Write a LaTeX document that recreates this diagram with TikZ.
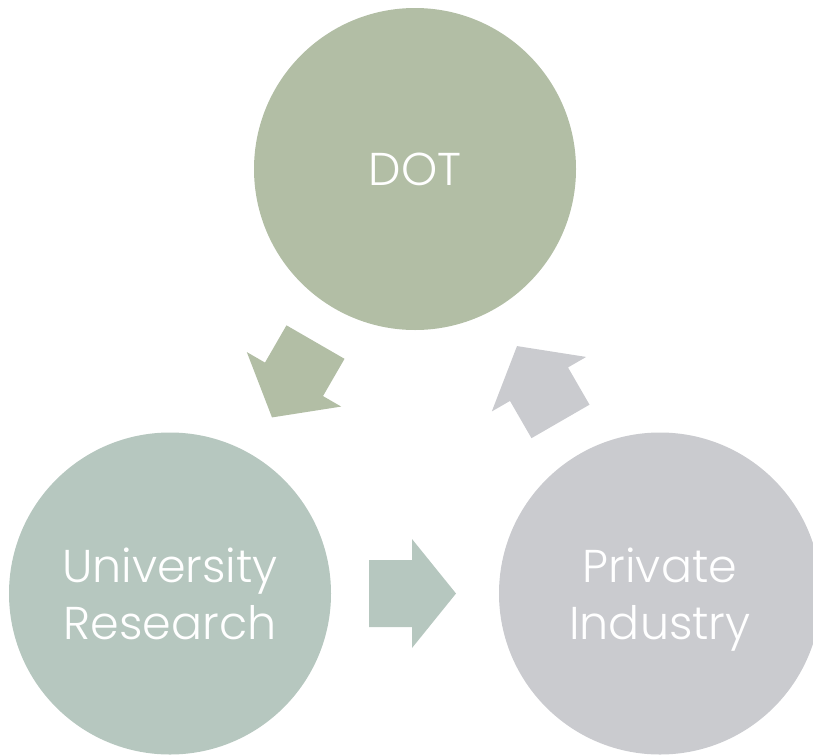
\documentclass[tikz,border=0pt]{standalone}
\usepackage{fontspec}
\setmainfont{Poppins Light}
\definecolor{dotgreen}{HTML}{B2BEA5}
\definecolor{unisage}{HTML}{B6C7BF}
\definecolor{indgray}{HTML}{CACBCF}
\tikzset{
  hub/.style={circle,minimum size=322pt,inner sep=0pt,text=white,align=center,
    text depth=0pt,font=\fontsize{46}{57}\selectfont},
  blockarrow/.pic={\fill (-43.5,-33.5) -- (-0.5,-33.5) -- (-0.5,-54.5) -- (43.5,0)
    -- (-0.5,54.5) -- (-0.5,33.5) -- (-43.5,33.5) -- cycle;}
}
\begin{document}
\begin{tikzpicture}[x=1pt,y=-1pt]
  \useasboundingbox (0,0) rectangle (813,755);
  \node[hub,fill=dotgreen] (dot) at (415,169) {DOT};
  \node[hub,fill=unisage] (uni) at (170,593.5) {University\\Research};
  \node[hub,fill=indgray] (ind) at (660,593.5) {Private\\Industry};
  % cycle arrows
  \pic[fill=dotgreen,rotate=240] (dottouni) at (293.75,379.75) {blockarrow};
  \pic[fill=unisage] (unitoind) at (412.5,593.5) {blockarrow};
  \pic[fill=indgray,rotate=120] (indtodot) at (538.75,383.75) {blockarrow};
\end{tikzpicture}
\end{document}
